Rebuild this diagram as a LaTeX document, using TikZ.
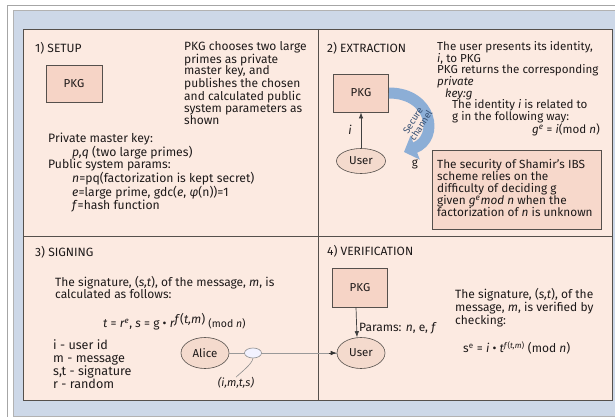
\documentclass[tikz,border=0pt]{standalone}
\usepackage{fontspec}
\setmainfont{Fira Sans}
\usetikzlibrary{arrows.meta,shapes.geometric}
\definecolor{bluebg}{RGB}{205,216,232}
\definecolor{peach}{RGB}{252,234,225}
\definecolor{pkgfill}{RGB}{246,212,198}
\definecolor{ellfill}{RGB}{244,218,205}
\definecolor{bordc}{RGB}{85,80,76}
\definecolor{chan}{RGB}{140,174,214}
\definecolor{chantext}{RGB}{55,80,115}
\definecolor{txtc}{RGB}{30,26,26}
\newcommand{\iv}[1]{\textit{#1}}
\begin{document}
\begin{tikzpicture}[x=1pt,y=-1pt,
  every node/.style={text=txtc},
  txt/.style={font=\fontsize{11.6}{11.8}\selectfont, inner sep=0pt, align=left},
  pkgbox/.style={draw=bordc, fill=pkgfill, line width=0.8pt, minimum width=55pt, minimum height=38pt, font=\fontsize{11.5}{12}\selectfont},
  userell/.style={ellipse, draw=bordc, fill=ellfill, line width=0.6pt, minimum width=49pt, minimum height=25pt, inner sep=0pt, font=\fontsize{11.5}{12}\selectfont},
  arr/.style={-{Latex[length=6pt,width=4.5pt]}, draw=black!75, line width=0.7pt}]
\useasboundingbox (0,0) rectangle (615,417);
% frames
\fill[white] (0,0) rectangle (615,417);
\draw[gray!70, line width=0.8pt] (7,417) -- (7,5) -- (615,5);
\draw[gray!60, fill=bluebg, line width=0.6pt] (13,10) rectangle (616,416);
\draw[bordc, fill=peach, line width=0.8pt] (23,29) rectangle (612,400);
\draw[bordc, line width=0.8pt] (318,29) -- (318,400);
\draw[bordc, line width=0.8pt] (23,236) -- (612,236);

% ---- 1) SETUP
\node[txt, anchor=west, font=\fontsize{12}{12}\selectfont] (t1) at (35,48) {1) SETUP};
\node[pkgbox, minimum width=56pt, minimum height=37pt] (pkg1) at (74,84) {PKG};
\node[txt, anchor=north west, font=\fontsize{12}{11.8}\selectfont] (d1) at (184,41) {PKG chooses two large\\primes as private\\master key, and\\publishes the chosen\\and calculated public\\system parameters as\\shown};
\node[txt, anchor=north west, font=\fontsize{12.2}{12.3}\selectfont] (k1) at (48,133) {Private master key:\\
\hspace*{24pt}\iv{p,q} (two large primes)\\
Public system params:\\
\hspace*{24pt}\iv{n}=pq(factorization is kept secret)\\
\hspace*{24pt}\iv{e}=large prime, gdc(\iv{e}, \iv{φ}(n))=1\\
\hspace*{24pt}\iv{f}=hash function};

% ---- 2) EXTRACTION
\node[txt, anchor=west, font=\fontsize{12}{12}\selectfont] (t2) at (327,48) {2) EXTRACTION};
\node[pkgbox] (pkg2) at (361,93) {PKG};
\node[userell] (user2) at (361,161) {User};
\draw[arr] (user2) -- (pkg2);
\node[txt, font=\fontsize{12}{12}\itshape] (ilab) at (350,130) {i};
\draw[chan, line width=11pt, -{Triangle[length=12pt,width=25pt]}]
  (389,93) .. controls (432,93) and (440,138) .. (404,152);
\node[txt, align=center, rotate=58, text=chantext, font=\fontsize{9.5}{9.5}\selectfont] (sc) at (417,123) {Secure\\channel};
\node[txt] (glab) at (415,164) {g};
\node[txt, anchor=north west] (d2) at (437,41) {The user presents its identity,\\
\iv{i}, to PKG\\
PKG returns the corresponding\\
\iv{private}};
\node[txt, anchor=north west] (d2b) at (445,88.2) {\iv{key:g}\\
\hspace*{7pt}The identity \iv{i} is related to\\
\hspace*{7pt}g in the following way:\\
\hspace*{87pt}\iv{g}\textsuperscript{\iv{e}} = \iv{i}(mod \iv{n})};
\node[draw=bordc, fill=pkgfill!80!peach, line width=0.8pt, anchor=north west, minimum width=169pt, minimum height=79pt, inner sep=0pt] (secbox) at (432,150) {};
\node[txt, anchor=north west, font=\fontsize{11.8}{12}\selectfont] (sec) at ([shift={(5,9)}]secbox.north west)
 {The security of Shamir's IBS\\scheme relies on the\\difficulty of deciding g\\given \iv{g}\textsuperscript{\iv{e}}\iv{mod n} when the\\factorization of \iv{n} is unknown};

% ---- 3) SIGNING
\node[txt, anchor=west, font=\fontsize{12}{12}\selectfont] (t3) at (35,252) {3) SIGNING};
\node[txt, anchor=north west, font=\fontsize{12}{11.2}\selectfont] (d3) at (55,276) {The signature, (\iv{s,t}), of the message, \iv{m}, is\\calculated as follows:};
\node[txt, anchor=west, font=\fontsize{12}{12}\selectfont] (f3) at (103,322) {\iv{t} = \iv{r}\textsuperscript{\iv{e}}, \iv{s} = g • \iv{r}\raisebox{4pt}{\iv{f}(\iv{t,m})} {\fontsize{10.5}{11}\selectfont(mod \iv{n})}};
\node[txt, anchor=north west, font=\fontsize{12.6}{13.3}\selectfont] (leg) at (53,339) {i - user id\\m - message\\s,t - signature\\r - random};
\node[userell, minimum width=48pt, minimum height=31pt] (alice) at (205,353) {Alice};

% ---- 4) VERIFICATION
\node[txt, anchor=west, font=\fontsize{12}{12}\selectfont] (t4) at (327,251) {4) VERIFICATION};
\node[pkgbox, minimum height=39pt] (pkg4) at (360,287.5) {PKG};
\node[userell, minimum width=48pt, minimum height=31pt] (user4) at (361,353) {User};
\draw[arr] ([xshift=-4pt]pkg4.south) -- ([xshift=-4pt]user4.north);
\node[txt, anchor=west, font=\fontsize{12}{12}\selectfont] (par) at (359,328) {Params: \iv{n}, e, \iv{f}};
\node[txt, anchor=north west, font=\fontsize{12}{11.4}\selectfont] (d4) at (455,288) {The signature, (\iv{s,t}), of the\\message, \iv{m}, is verified by\\checking:};
\node[txt, anchor=west, font=\fontsize{12}{12}\selectfont] (f4) at (463,348) {s\textsuperscript{e} = \iv{i} • \iv{t}\textsuperscript{\iv{f}(\iv{t,m})} (mod \iv{n})};

% signing connector
\draw[draw=gray!80, line width=0.8pt] (alice.east) -- (user4.west);
\draw[arr, draw=black!80] ([xshift=-8pt]user4.west) -- (user4.west);
\node[ellipse, draw=gray!90, fill=blue!5, line width=0.6pt, minimum width=17pt, minimum height=10pt, inner sep=0pt] (env) at (253,353) {};
\node[txt, font=\fontsize{11}{12}\itshape] (msg) at (236,383) {(i,m,t,s)};
\draw[gray!90, line width=0.6pt] (env.south) .. controls +(-1,6) and +(5,-5) .. (msg.north);
\end{tikzpicture}
\end{document}
